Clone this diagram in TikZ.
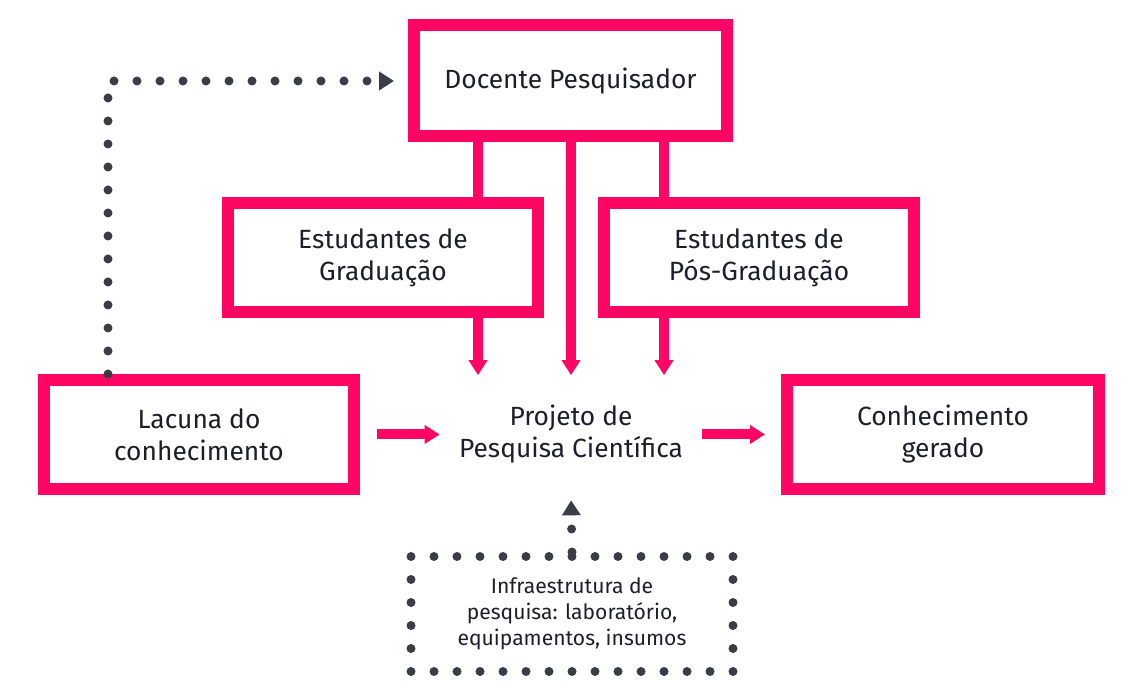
\documentclass[tikz,border=0pt]{standalone}
\usepackage{fontspec}
\setmainfont{Fira Sans}
\usetikzlibrary{arrows.meta}
\definecolor{pinkline}{HTML}{FF0664}
\definecolor{dotgray}{HTML}{3A3E44}
\definecolor{textdark}{HTML}{1E1E28}

\begin{document}
\begin{tikzpicture}[
	box/.style={draw=pinkline, line width=0.24cm, minimum width=6.2cm, minimum height=2.18cm, align=center, text=textdark, font=\fontsize{15}{18.2}\selectfont},
	link/.style={pinkline, line width=0.2cm},
	flow/.style={link, -{Triangle[width=0.36cm, length=0.3cm]}},
	dots/.style={dotgray, line width=0.18cm, line cap=round, dash pattern=on 0pt off 0.46cm},
	dotflow/.style={dots, -{Triangle[width=0.36cm, length=0.3cm]}}
]
	\useasboundingbox (0,0) rectangle (22.86,13.98);
	\node[box, minimum width=6.26cm, minimum height=2.22cm] (doc) at (11.41,12.36) {Docente Pesquisador};
	\node[box] (grad) at (7.66,8.82) {Estudantes de\\Graduação};
	\node[box] (pos) at (15.18,8.82) {Estudantes de\\Pós-Graduação};
	\node[box] (lac) at (3.98,5.29) {Lacuna do\\conhecimento};
	\node[box, minimum width=6.24cm] (con) at (18.86,5.29) {Conhecimento\\gerado};
	\node[minimum width=5.24cm, minimum height=2.36cm, align=center, text=textdark, font=\fontsize{15}{18.2}\selectfont] (proj) at (11.42,5.29) {Projeto de\\Pesquisa Científica};
	\node[dots, draw, minimum width=6.44cm, minimum height=2.30cm, align=center, text=textdark, font=\fontsize{12}{14.7}\selectfont] (infra) at (11.44,1.70) {Infraestrutura de\\pesquisa: laboratório,\\equipamentos, insumos};
	\coordinate (up) at (2.16,0);
	\coordinate (c1) at (9.56,0);
	\coordinate (c2) at (11.42,0);
	\coordinate (c3) at (13.28,0);
	\draw[link] (doc.south -| c1) -- (grad.north -| c1);
	\draw[link] (doc.south -| c3) -- (pos.north -| c3);
	\draw[flow] (doc.south -| c2) -- (proj.north);
	\draw[flow] (grad.south -| c1) -- (proj.north -| c1);
	\draw[flow] (pos.south -| c3) -- (proj.north -| c3);
	\draw[flow, shorten <=0.34cm] (lac.east) -- (proj.west);
	\draw[flow, shorten >=0.32cm] (proj.east) -- (con.west);
	\draw[dotflow, shorten >=0.13cm] (infra.north) -- (proj.south);
	\draw[dotflow, shorten >=0.28cm] (lac.north -| up) |- (doc.west);
\end{tikzpicture}
\end{document}
